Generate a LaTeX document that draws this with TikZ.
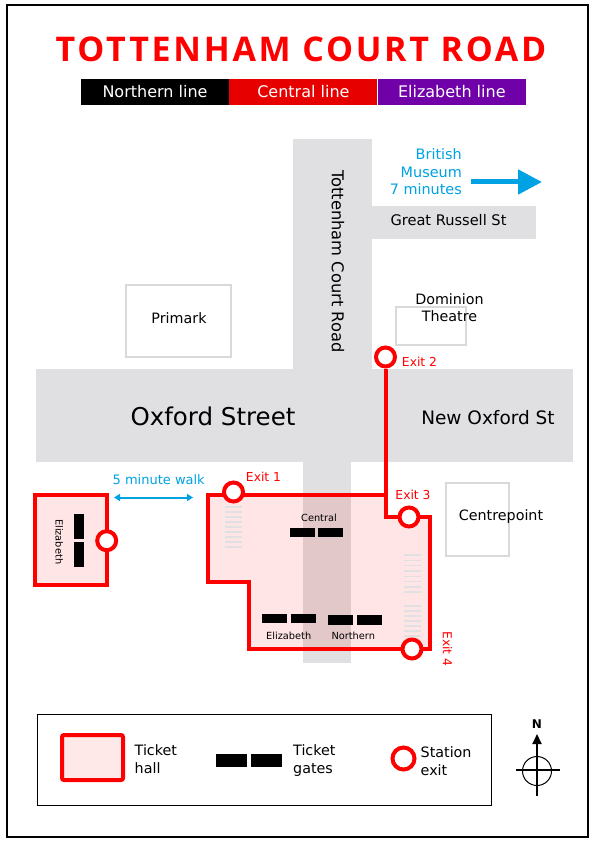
\documentclass[tikz,border=0pt]{standalone}
\usepackage{fontspec}
\setmainfont{DejaVu Sans}
\newfontfamily\titlefont[LetterSpace=8]{Open Sans}
\usepackage{xcolor}
\definecolor{tcrroad}{RGB}{224,223,226}
\definecolor{tcrred}{RGB}{255,0,0}
\definecolor{tcrcentral}{RGB}{230,0,0}
\definecolor{tcrpurple}{RGB}{112,0,168}
\definecolor{tcrblue}{RGB}{0,162,228}
\definecolor{tcrbuild}{RGB}{217,217,217}
\usetikzlibrary{arrows.meta,positioning}
\tikzset{
  road/.style={fill=tcrroad},
  hall/.style={draw=tcrred,line width=4pt,fill=tcrred,fill opacity=0.1,draw opacity=1,line join=miter},
  building/.style={draw=tcrbuild,line width=2pt,fill=white},
  exitring/.style={circle,draw=tcrred,line width=4pt,fill=white,minimum size=19pt,inner sep=0pt},
  exitlabel/.style={font=\fontsize{12.3}{12.3}\selectfont,color=tcrred,inner sep=0pt},
  gate/.style={fill=black,minimum width=25pt,minimum height=9.6pt,inner sep=0pt},
  gatelabel/.style={font=\fontsize{9.8}{9.8}\selectfont,inner sep=0pt},
  linebox/.style={minimum width=148pt,minimum height=26pt,inner sep=0pt,text=white,font=\fontsize{16}{16}\selectfont},
  stair/.style={draw=tcrroad,line width=1.4pt},
  maplabel/.style={font=\fontsize{14.3}{17.4}\selectfont,align=center,inner sep=0pt},
  keylabel/.style={font=\fontsize{14.3}{18}\selectfont,align=left,inner sep=0pt,anchor=west},
  walkline/.style={draw=tcrblue,line width=2pt,{Triangle[length=6pt,width=7pt]}-{Triangle[length=6pt,width=7pt]}},
  museumline/.style={draw=tcrblue,line width=5pt,-{Triangle[length=24pt,width=24pt]}},
}
\begin{document}
\begin{tikzpicture}[x=1pt,y=-1pt]
\useasboundingbox (0,0) rectangle (595,842);
\fill[white] (0,0) rectangle (595,842);
\draw[black,line width=2pt] (7,5) rectangle (588,837);

% Title and lines
\node[inner sep=0pt,text=tcrred,font=\fontsize{34}{34}\selectfont\titlefont\bfseries] (title) at (301,49) {TOTTENHAM COURT ROAD};
\node[linebox,fill=black] (northern) at (155,91.7) {\raisebox{1pt}{Northern line}};
\node[linebox,fill=tcrcentral,right=0pt of northern] (central) {Central line};
\node[linebox,fill=tcrpurple,right=0pt of central] (elizabeth) {Elizabeth line};

% Roads
\path[road] (293,139) rectangle (372,369);
\path[road] (372,206) rectangle (536,239);
\path[road] (36,369) rectangle (573,462);
\path[road] (303,462) rectangle (351,663);
\node[rotate=-90,inner sep=0pt,font=\fontsize{16.3}{16.3}\selectfont] (tcrname) at (338,261.5) {Tottenham Court Road};
\node[inner sep=0pt,font=\fontsize{14.6}{14.6}\selectfont] (russell) at (448.5,220) {Great Russell St};
\node[inner sep=0pt,font=\fontsize{24.5}{24.5}\selectfont] (oxford) at (213,416) {Oxford Street};
\node[inner sep=0pt,font=\fontsize{18.5}{18.5}\selectfont] (newoxford) at (488,418) {New Oxford St};

% Buildings
\draw[building] (126,285) rectangle (231,357);
\draw[building] (396,307) rectangle (466,345);
\draw[building] (446,483) rectangle (509,556);
\node[maplabel] (primark) at (179,318) {Primark};
\node[maplabel] (dominion) at (449.5,307.5) {Dominion\\Theatre};
\node[maplabel] (centrepoint) at (501,517) {Centrepoint};

% British Museum
\node[maplabel,align=right,anchor=east,text=tcrblue,font=\fontsize{14.4}{17.5}\selectfont] (museum) at (462,172) {British\\Museum\\7 minutes};
\coordinate (museumfrom) at (471,182);
\coordinate (museumto) at (542,182);
\draw[museumline] (museumfrom) -- (museumto);

% Main ticket hall
\draw[hall] (207.5,495) -- (385.5,495) -- (385.5,517) -- (430,517) -- (430,649) -- (249,649) -- (249,582) -- (207.5,582) -- cycle;
\foreach \y in {0,...,8} {\draw[stair] (225,{507+\y*5}) -- (242,{507+\y*5});}
\foreach \y in {0,...,7} {\draw[stair] (404,{555+\y*5.3}) -- (421,{555+\y*5.3});}
\foreach \y in {0,...,6} {\draw[stair] (404,{606+\y*5}) -- (421,{606+\y*5});}
\node[gate] (gatec1) at (302.5,532.5) {};
\node[gate,right=3pt of gatec1] (gatec2) {};
\node[gate] (gatee1) at (274.8,618.5) {};
\node[gate,right=3pt of gatee1] (gatee2) {};
\node[gate] (gaten1) at (340.8,619.7) {};
\node[gate,right=3pt of gaten1] (gaten2) {};
\node[gatelabel] (labelc) at (319,517.5) {Central};
\node[gatelabel] (labele) at (288.7,635.5) {Elizabeth};
\node[gatelabel] (labeln) at (353.3,635.5) {Northern};

% Exits
\coordinate (hallcorner) at (385.5,495);
\node[exitring] (exit1) at (233.5,492) {};
\node[exitring] (exit2) at (385.5,357) {};
\node[exitring] (exit3) at (409,517) {};
\node[exitring] (exit4) at (412,649) {};
\draw[tcrred,line width=4pt] (exit2) -- (hallcorner);
\node[exitlabel] (exit1label) at (263.5,477) {Exit 1};
\node[exitlabel] (exit2label) at (419.5,362) {Exit 2};
\node[exitlabel] (exit3label) at (413,495) {Exit 3};
\node[exitlabel,rotate=-90] (exit4label) at (447.5,649) {Exit 4};

% Elizabeth line hall
\draw[hall] (34.7,494.7) -- (107,494.7) -- (107,585) -- (34.7,585) -- cycle;
\node[gate,minimum width=9.6pt,minimum height=25pt] (gatew1) at (79.2,526.7) {};
\node[gate,minimum width=9.6pt,minimum height=25pt] (gatew2) at (79.2,554.4) {};
\node[gatelabel,rotate=-90] (labelw) at (59.3,541.7) {Elizabeth};
\node[exitring] (exit5) at (106.7,540.7) {};

% Walk
\node[inner sep=0pt,text=tcrblue,font=\fontsize{13}{13}\selectfont] (walk) at (158.7,480) {5 minute walk};
\coordinate (walkfrom) at (114,497.5);
\coordinate (walkto) at (193,497.5);
\draw[walkline] (walkfrom) -- (walkto);

% Key
\draw[black,line width=1pt] (37,714) rectangle (491,805);
\draw[hall,rounded corners=2pt,fill opacity=0.09] (62,735) rectangle (123,780);
\node[keylabel] (keyhall) at (134.5,759.5) {Ticket\\hall};
\node[gate,minimum width=31pt,minimum height=13pt] (keygate1) at (231,760) {};
\node[gate,minimum width=31pt,minimum height=13pt,right=4pt of keygate1] (keygate2) {};
\node[keylabel] (keygates) at (293,761) {Ticket\\gates};
\node[exitring,minimum size=22pt] (keyexit) at (403.5,758.5) {};
\node[keylabel] (keyexitlabel) at (420.5,761) {Station\\exit};

% Compass
\node[circle,draw=black,line width=1pt,minimum size=29pt,inner sep=0pt] (compass) at (537,771) {};
\coordinate (compassw) at (515.5,770);
\coordinate (compasse) at (559.5,770);
\coordinate (compasss) at (537,796);
\coordinate (compassn) at (537,734);
\draw[black,line width=2pt] (compassw) -- (compasse);
\draw[black,line width=2pt,-{Triangle[length=10pt,width=9pt]}] (compasss) -- (compassn);
\node[inner sep=0pt,font=\fontsize{12}{12}\selectfont\bfseries,above=5pt of compassn] (north) {N};
\end{tikzpicture}
\end{document}
